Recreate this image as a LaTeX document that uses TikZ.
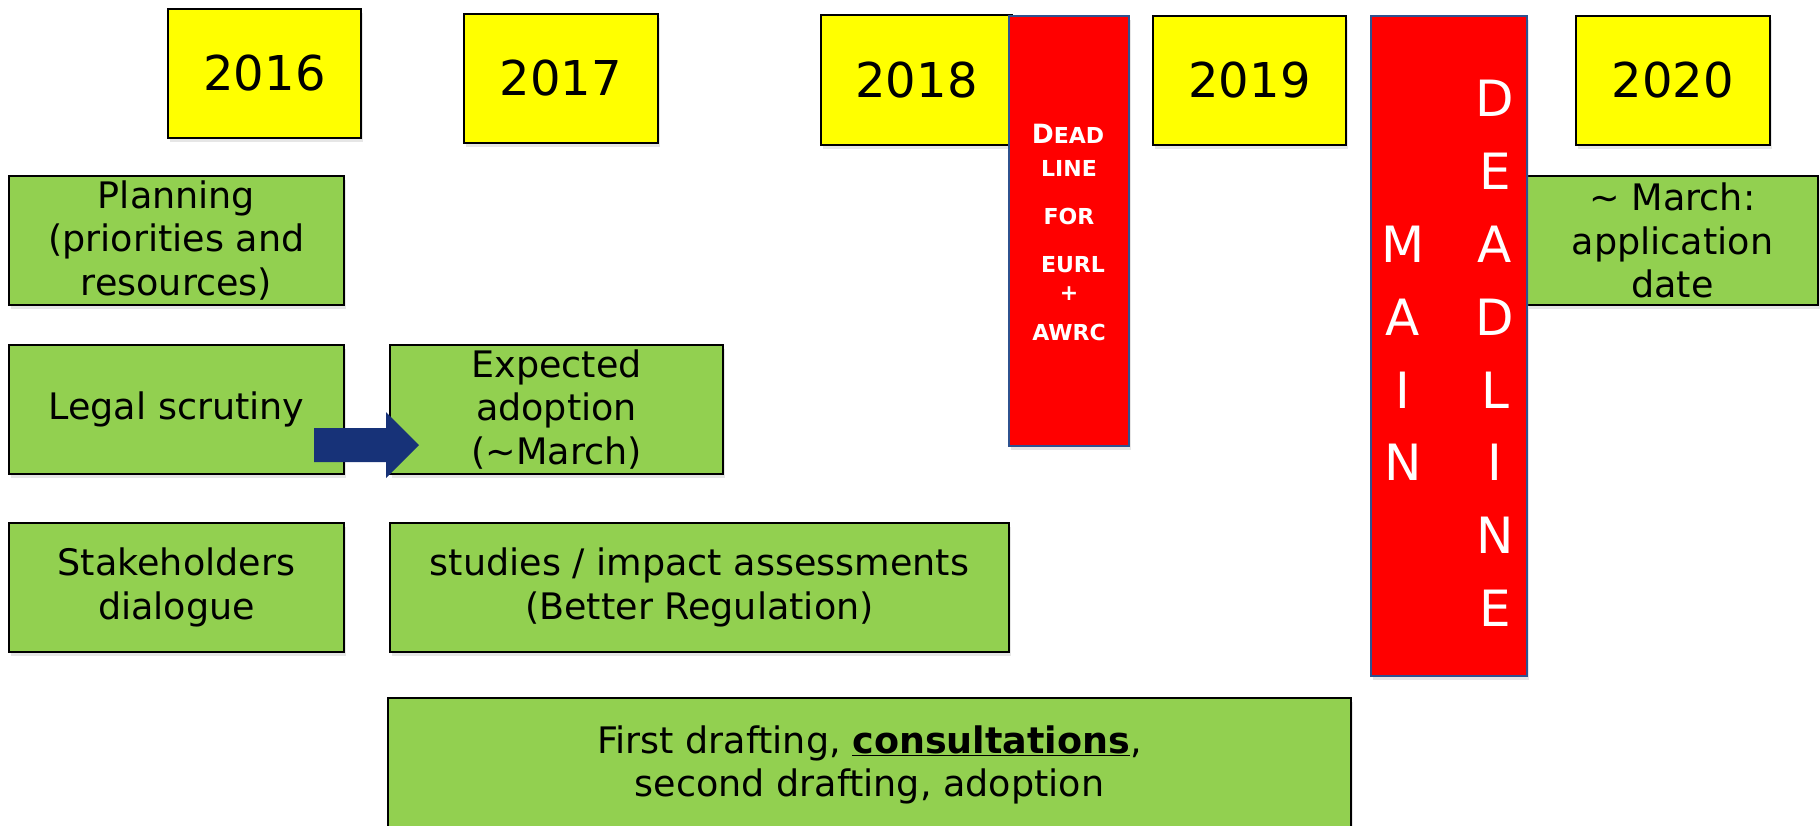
\documentclass[tikz,border=0pt]{standalone}
\usepackage{fontspec}
\setmainfont{DejaVu Sans}
\usetikzlibrary{shadows,calc}
\definecolor{ygold}{RGB}{255,255,0}
\definecolor{lgreen}{RGB}{146,208,80}
\definecolor{dred}{RGB}{255,0,0}
\definecolor{rborder}{RGB}{47,82,143}
\definecolor{navyarrow}{RGB}{23,50,120}
\tikzset{
  boxbase/.style={rectangle, inner sep=0pt, line width=1.5pt,
    drop shadow={shadow xshift=1.5pt, shadow yshift=-4pt, opacity=0.2}},
  yearbox/.style={boxbase, draw=black, fill=ygold, font=\fontsize{48}{56}\selectfont},
  greenbox/.style={boxbase, draw=black, fill=lgreen, align=center, font=\fontsize{36.5}{43.5}\selectfont},
  redbox/.style={boxbase, draw=rborder, fill=dred},
  bigletter/.style={inner sep=0pt, text=white, font=\fontsize{50}{50}\selectfont},
  smallred/.style={inner sep=0pt, text=white, anchor=base, font=\bfseries\fontsize{22}{22}\selectfont},
}
\newcommand{\bigDcap}{{\fontsize{26.5}{26.5}\selectfont D}}
\begin{document}
\begin{tikzpicture}[x=1pt,y=-1pt]
\useasboundingbox (0,0) rectangle (1820,825);
% year boxes
\node[yearbox, minimum width=193pt, minimum height=129pt] (y16) at (264.5,73.5) {2016};
\node[yearbox, minimum width=194pt, minimum height=129pt] (y17) at (561,78.5) {2017};
\node[yearbox, minimum width=191pt, minimum height=130pt] (y18) at (916.5,80) {2018};
% deadline for EURL
\node[redbox, minimum width=120pt, minimum height=430pt] (dl) at (1069,231) {};
\node[smallred] (dl1) at (1068,143) {\bigDcap EAD};
\node[smallred] (dl2) at (1069,176) {LINE};
\node[smallred] (dl3) at (1069,224) {FOR};
\node[smallred] (dl4) at (1073,272) {EURL};
\node[smallred] (dl5) at (1069,300) {+};
\node[smallred] (dl6) at (1069,340) {AWRC};
\node[yearbox, minimum width=193pt, minimum height=129pt] (y19) at (1249.5,80.5) {2019};
\node[yearbox, minimum width=194pt, minimum height=129pt] (y20) at (1673,80.5) {2020};
% application date
\node[greenbox, minimum width=291pt, minimum height=129pt] (march) at (1672.5,240.5) {\textasciitilde{} March:\\application\\date};
% main deadline
\node[redbox, minimum width=156pt, minimum height=660pt] (main) at (1449,346) {};
\node[bigletter] (m1) at (1403,244) {M};
\node[bigletter] (m2) at (1403,317) {A};
\node[bigletter] (m3) at (1403,390) {I};
\node[bigletter] (m4) at (1403,462) {N};
\node[bigletter] (d1) at (1495,98) {D};
\node[bigletter] (d2) at (1495,171) {E};
\node[bigletter] (d3) at (1495,244) {A};
\node[bigletter] (d4) at (1495,317) {D};
\node[bigletter] (d5) at (1495,390) {L};
\node[bigletter] (d6) at (1495,462) {I};
\node[bigletter] (d7) at (1495,535) {N};
\node[bigletter] (d8) at (1495,608) {E};
% green boxes
\node[greenbox, minimum width=335pt, minimum height=129pt] (plan) at (176.5,240.5) {Planning\\(priorities and\\resources)};
\node[greenbox, minimum width=335pt, minimum height=129pt] (legal) at (176.5,409.5) {Legal scrutiny};
\node[greenbox, minimum width=333pt, minimum height=129pt] (expect) at (556.5,409.5) {Expected\\adoption\\(\textasciitilde March)};
\node[greenbox, minimum width=335pt, minimum height=129pt] (stake) at (176.5,587.5) {Stakeholders\\dialogue};
\node[greenbox, minimum width=619pt, minimum height=129pt] (studies) at (699.5,587.5) {studies / impact assessments\\(Better Regulation)};
\node[greenbox, minimum width=963pt, minimum height=134pt] (first) at (869.5,765) {First drafting, \underline{\textbf{consultations}},\\second drafting, adoption};
% block arrow
\coordinate (a1) at (314,445);
\coordinate (a2) at (419,445);
\fill[navyarrow] ($(a1)+(0,-17)$) -- ($(a2)+(-33,-17)$) -- ($(a2)+(-33,-33)$) -- (a2)
  -- ($(a2)+(-33,33)$) -- ($(a2)+(-33,17)$) -- ($(a1)+(0,17)$) -- cycle;
\end{tikzpicture}
\end{document}
